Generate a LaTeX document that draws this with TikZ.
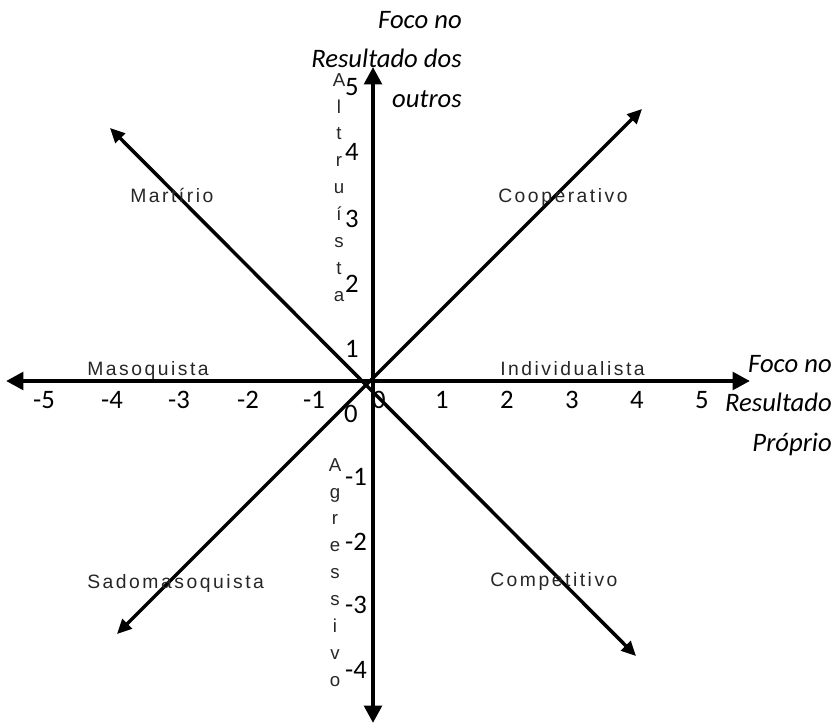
\documentclass[tikz,border=0pt]{standalone}
\usepackage{fontspec}
\setmainfont{Carlito}
\newfontfamily\spaced[LetterSpace=13]{Liberation Sans}
\usetikzlibrary{arrows.meta}
\tikzset{
  axis/.style={line width=3.2pt,{Triangle[length=13pt,width=13pt]}-{Triangle[length=13pt,width=13pt]}},
  diag/.style={line width=2.6pt,{Triangle[length=11pt,width=10pt]}-{Triangle[length=11pt,width=10pt]}},
  tick/.style={font=\fontsize{20}{24}\selectfont,inner sep=0pt,anchor=base},
  focus/.style={font=\fontsize{20}{29.5}\itshape\selectfont,align=right,inner sep=0pt,anchor=north east},
  quad/.style={font=\spaced\fontsize{14.5}{17}\selectfont,text=black!85,inner sep=0pt,anchor=base west},
  vword/.style={font=\spaced\fontsize{14}{20.2}\selectfont,text=black!85,align=center,inner sep=0pt,anchor=north}
}
\begin{document}
\begin{tikzpicture}[x=0.75pt,y=-0.75pt]
\useasboundingbox (0,0) rectangle (839,724);
\coordinate (O) at (373,381);
\coordinate (W) at (6,381);
\coordinate (E) at (750,381);
\coordinate (N) at (373,67);
\coordinate (S) at (373,723);
\coordinate (NE) at (642,109);
\coordinate (SW) at (117,634);
\coordinate (NW) at (110,128);
\coordinate (SE) at (636,656);

\node[tick] (xm5) at (44,408) {-5};
\node[tick] (xm4) at (112,408) {-4};
\node[tick] (xm3) at (179,408) {-3};
\node[tick] (xm2) at (248,408) {-2};
\node[tick] (xm1) at (314,408) {-1};
\node[tick] (x0) at (379,408) {0};
\node[tick] (x1) at (442,408) {1};
\node[tick] (x2) at (507,408) {2};
\node[tick] (x3) at (572,408) {3};
\node[tick] (x4) at (637,408) {4};
\node[tick] (x5) at (702,408) {5};
\node[tick] (y0) at (351,422) {0};
\node[tick] (y1) at (352,357) {1};
\node[tick] (y2) at (352,292) {2};
\node[tick] (y3) at (352,227) {3};
\node[tick] (y4) at (352,160) {4};
\node[tick] (y5) at (352,95) {5};
\node[tick] (ym1) at (356,485) {-1};
\node[tick] (ym2) at (356,550) {-2};
\node[tick] (ym3) at (356,613) {-3};
\node[tick] (ym4) at (356,678) {-4};

\draw[diag] (SW) -- (NE);
\draw[diag] (NW) -- (SE);
\draw[axis] (W) -- (E);
\draw[axis] (S) -- (N);

\node[focus] (others) at (462,11) {Foco no\\Resultado dos\\outros};
\node[focus] (own) at (832,355) {Foco no\\Resultado\\Próprio};

\node[quad] (mart) at (130,202) {Martírio};
\node[quad] (coop) at (498,202) {Cooperativo};
\node[quad] (maso) at (87,375) {Masoquista};
\node[quad] (indiv) at (500,375) {Individualista};
\node[quad] (sado) at (87,588) {Sadomasoquista};
\node[quad] (comp) at (490,586) {Competitivo};

\node[vword] (altru) at (339,73) {A\\l\\t\\r\\u\\í\\s\\t\\a};
\node[vword] (agress) at (335,458) {A\\g\\r\\e\\s\\s\\i\\v\\o};
\end{tikzpicture}
\end{document}
